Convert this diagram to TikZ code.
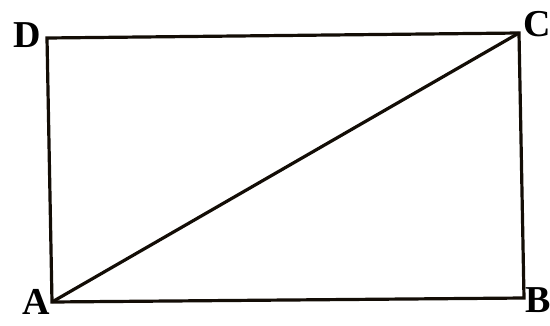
\documentclass[tikz,border=0pt]{standalone}
\usepackage{fontspec}
\setmainfont{Liberation Serif}
\begin{document}
\begin{tikzpicture}[x=1pt,y=-1pt,
  edge/.style={line width=3.2pt,line join=miter,draw=black!90!brown},
  lbl/.style={font=\fontsize{38}{42}\selectfont\bfseries,inner sep=0pt}]
\useasboundingbox (0,0) rectangle (550,325);
\coordinate (A) at (52,302);
\coordinate (B) at (524,298);
\coordinate (C) at (519,33);
\coordinate (D) at (47,38);
\draw[edge] (A) -- (B) -- (C) -- (D) -- cycle;
\draw[edge] (A) -- (C);
\node[lbl] (lA) at (36,302) {A};
\node[lbl] (lB) at (538,300) {B};
\node[lbl] (lC) at (537,24) {C};
\node[lbl] (lD) at (27,35) {D};
\end{tikzpicture}
\end{document}
